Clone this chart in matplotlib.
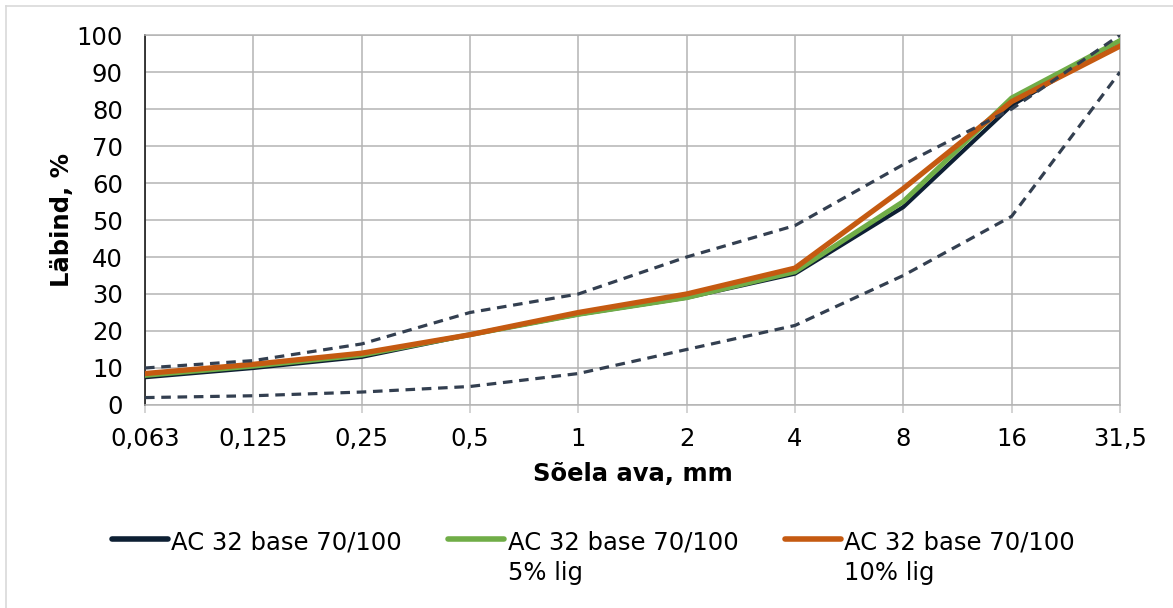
import numpy as np
import matplotlib
matplotlib.use("Agg")
import matplotlib.pyplot as plt
from matplotlib.lines import Line2D

# sieve sizes (category axis) and passing percentages
sieves = ["0,063", "0,125", "0,25", "0,5", "1", "2", "4", "8", "16", "31,5"]
base = [7.5, 10, 13, 19, 24.5, 29, 35.5, 53.5, 81, 98.5]
lig5 = [8, 10.5, 13.5, 19, 24.5, 29, 36, 55, 83, 98.5]
lig10 = [8.5, 11, 14, 19, 25, 30, 37, 58.5, 82, 97]
upper = [10, 12, 16.5, 25, 30, 40, 48.5, 65, 80, 100]
lower = [2, 2.5, 3.5, 5, 8.5, 15, 21.5, 35, 51, 90]

labels = ["AC 32 base 70/100", "AC 32 base 70/100\n5% lig", "AC 32 base 70/100\n10% lig"]

plt.rcParams['font.family'] = ['DejaVu Sans']
fs = 17.5

fig = plt.figure(figsize=(11.73, 6.08), dpi=100)
ax = fig.add_axes([0.1236, 0.3339, 0.8312, 0.6085])

x = np.arange(len(sieves))
ax.plot(x, base, color='#0d1f33', lw=3.0, label=labels[0], zorder=3)
ax.plot(x, lig5, color='#70ad47', lw=3.6, label=labels[1], zorder=4)
ax.plot(x, lig10, color='#c55a11', lw=3.8, label=labels[2], zorder=5)
dash = (0, (3.0, 2.1))
ax.plot(x, upper, color='#333f50', lw=2.3, linestyle=dash, zorder=6)
ax.plot(x, lower, color='#333f50', lw=2.3, linestyle=dash, zorder=6)

ax.set_xlim(0, len(sieves) - 1)
ax.set_ylim(0, 100)
ax.set_xticks(x)
ax.set_xticklabels(sieves)
ax.set_yticks(np.arange(0, 101, 10))

ax.grid(True, color='#b4b4b4', lw=1.1)
ax.set_axisbelow(True)
for side in ['top', 'right', 'bottom']:
    ax.spines[side].set_color('#b4b4b4')
    ax.spines[side].set_linewidth(1.1)
ax.spines['left'].set_color('#1a1a1a')
ax.spines['left'].set_linewidth(1.2)

ax.tick_params(axis='y', length=0, pad=16, labelsize=fs)
ax.tick_params(axis='x', length=6, color='#c8c8c8', width=1.1, pad=10, labelsize=fs)

ax.set_xlabel("Sõela ava, mm", fontweight='bold', fontsize=fs, labelpad=8)
ax.set_ylabel("Läbind, %", fontweight='bold', fontsize=fs, labelpad=2)

leg = fig.legend(loc='center', bbox_to_anchor=(0.506, 0.083), ncol=3, frameon=False,
                 fontsize=fs, handlelength=2.3, handletextpad=0.15, columnspacing=1.9)
for line in leg.get_lines():
    line.set_linewidth(4)
    line.set_solid_capstyle('round')
for t in leg.get_texts():
    t.set_linespacing(1.35)
# keep the handle next to the first line of two-line labels
leg._legend_handle_box.align = 'top'
for col in leg._legend_handle_box.get_children():
    for entry in col.get_children():
        entry.align = 'top'

# thin frame on the left and top edges
fig.add_artist(Line2D([6 / 1173, 6 / 1173], [0, 1 - 6 / 608], transform=fig.transFigure,
                      color='#d9d9d9', lw=1.2))
fig.add_artist(Line2D([6 / 1173, 1], [1 - 6 / 608, 1 - 6 / 608], transform=fig.transFigure,
                      color='#d9d9d9', lw=1.2))

fig.savefig("out.png", dpi=100)
